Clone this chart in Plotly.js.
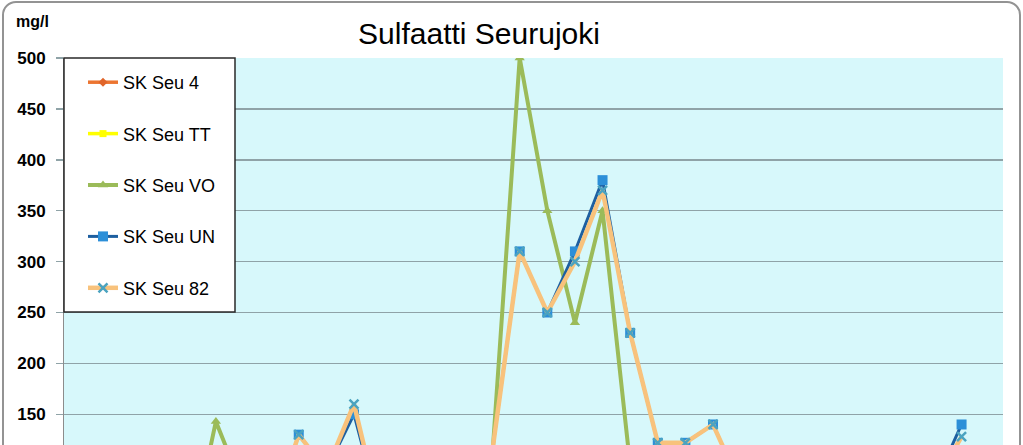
<!DOCTYPE html>
<html>
<head>
<meta charset="utf-8">
<script src="https://cdn.plot.ly/plotly-3.0.1.min.js"></script>
<style>
  html, body { margin: 0; padding: 0; background: #ffffff; overflow: hidden; }
  #chart { position: absolute; left: 0; top: 0; width: 1023px; height: 640px; }
  #frame { position: absolute; left: 2px; top: 1px; width: 1015px; height: 700px;
           border: 2px solid #939393; border-radius: 14px; pointer-events: none; }
</style>
</head>
<body>
<div id="chart"></div>
<div id="frame"></div>
<script>
// Sample indices (x categories)
const categories = ['1','2','3','4','5','6','7','8','9','10','11','12','13','14','15','16','17',
                    '18','19','20','21','22','23','24','25','26','27','28','29','30','31','32','33','34'];

// Series values (mg/l); null = no sample
const seu4  = [30, 28, 35, 32, 25, 40, 38, 30, 42, 36, 45, 30, 28, 26, 32, 40, 48, 44, 46, 50,
               42, 36, 34, 38, 32, 30, 28, 26, 30, 28, 32, 34, 36, null];
const seuTT = [40, 36, 45, 42, 35, 50, 46, 40, 52, 46, 55, 40, 38, 36, 42, 50, 58, 54, 56, 60,
               52, 46, 44, 48, 42, 40, 38, 36, 40, 38, 42, 44, 46, null];
const seuVO = [50, 45, 60, 55, 15, 143, 75, 60, 70, 65, 75, 60, 55, 50, 60, 105, 500, 350, 240, 350,
               100, 60, 55, 65, 60, 55, 50, 45, 55, 50, 60, 65, 70, null];
const seuUN = [60, 55, 70, 65, 80, 75, 85, 49, 130, 95, 150, 47, 70, 60, 75, 112, 310, 250, 310, 380,
               230, 122, 122, 140, 80, 80, 70, 65, 75, 70, 80, 80, 140, null];
const seu82 = [60, 55, 70, 65, 80, 75, 85, 49, 130, 95, 160, 47, 70, 60, 75, 112, 310, 250, 300, 370,
               230, 122, 122, 140, 80, 80, 70, 65, 75, 70, 80, 80, 128, null];

const seriesNames = ['SK Seu 4', 'SK Seu TT', 'SK Seu VO', 'SK Seu UN', 'SK Seu 82'];
// Tick labels that fall inside the visible part of the chart
const yTicks = [150, 200, 250, 300, 350, 400, 450, 500];

const W = 1023, H = 640;
const mL = 64, mR = 20, mT = 58, mB = 73;
const plotW = W - mL - mR, plotH = H - mT - mB;

function tr(name, y, lineColor, lineW, symbol, mColor, mSize, extra) {
  const t = {
    type: 'scatter', mode: 'lines+markers', name: name, x: categories, y: y,
    legendgroup: name, connectgaps: false,
    line: { color: lineColor, width: lineW },
    marker: { symbol: symbol, color: mColor, size: mSize }
  };
  if (extra) Object.assign(t.marker, extra);
  return t;
}

const data = [
  tr(seriesNames[0], seu4, '#ec7531', 3.5, 'diamond', '#e0652a', 7),
  tr(seriesNames[1], seuTT, '#ffff00', 3.5, 'square', '#ffff00', 7),
  tr(seriesNames[2], seuVO, '#9bbb59', 4, 'triangle-up', '#9bbb59', 9),
  tr(seriesNames[3], seuUN, '#1d5fa0', 3, 'square', '#2c8fd8', 10),
  tr(seriesNames[4], seu82, '#f8c27c', 4.5, 'x-thin', '#4ba3c0', 9, { line: { color: '#4ba3c0', width: 2.5 } })
];

const layout = {
  width: W, height: H,
  margin: { l: mL, r: mR, t: mT, b: mB },
  paper_bgcolor: 'rgba(0,0,0,0)',
  plot_bgcolor: '#d7f8fb',
  font: { family: '"Liberation Sans", Arial, sans-serif', color: '#000000' },
  title: {
    text: 'Sulfaatti Seurujoki',
    font: { family: '"Liberation Sans", Arial, sans-serif', size: 30, color: '#000000' },
    x: 479 / W, xanchor: 'center', xref: 'container',
    y: 1 - 33 / H, yanchor: 'middle', yref: 'container'
  },
  xaxis: {
    type: 'category', range: [-0.5, categories.length - 0.5],
    showgrid: false, showline: true, linecolor: '#8c8c8c', linewidth: 1,
    ticks: '', showticklabels: false, fixedrange: true
  },
  yaxis: {
    range: [0, 500], tickvals: yTicks, ticktext: yTicks.map(String),
    showgrid: true, gridcolor: '#8fa3a7', gridwidth: 1.5,
    showline: true, linecolor: '#8c8c8c', linewidth: 1,
    ticks: 'outside', ticklen: 7, tickcolor: '#8fa3a7', tickwidth: 1.5,
    ticklabelstandoff: 7,
    tickfont: { size: 17, family: '"Liberation Sans", Arial, sans-serif', weight: 'bold' },
    zeroline: false, fixedrange: true
  },
  showlegend: true,
  legend: {
    x: (83 - mL) / plotW, xanchor: 'left',
    y: 1 - 6 / plotH, yanchor: 'top',
    bgcolor: 'rgba(0,0,0,0)', borderwidth: 0,
    traceorder: 'grouped', tracegroupgap: 25,
    font: { size: 18, family: '"Liberation Sans", Arial, sans-serif', color: '#000000' }
  },
  shapes: [{
    type: 'rect', xref: 'paper', yref: 'paper', layer: 'above',
    x0: 0, x1: (235 - mL) / plotW, y0: (H - mB - 312) / plotH, y1: 1,
    fillcolor: '#ffffff', line: { color: '#2a2a2a', width: 1.5 }
  }],
  annotations: [{
    text: '<b>mg/l</b>', xref: 'paper', yref: 'paper',
    x: (14 - mL) / plotW, xanchor: 'left',
    y: (H - mB - 21) / plotH, yanchor: 'middle',
    showarrow: false, font: { size: 16, family: '"Liberation Sans", Arial, sans-serif', color: '#000000' }
  }]
};

Plotly.newPlot('chart', data, layout, { displayModeBar: false, staticPlot: true });
</script>
</body>
</html>
